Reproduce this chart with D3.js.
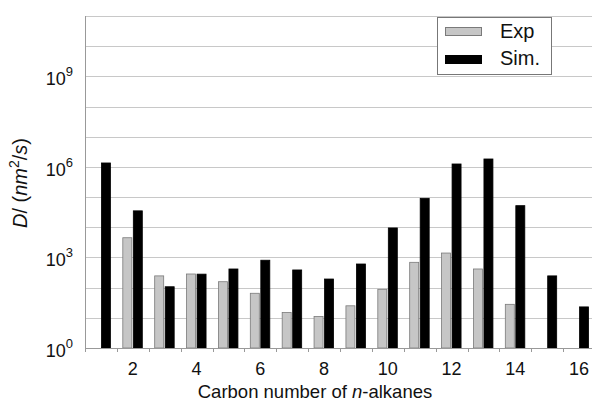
<!DOCTYPE html>
<html>
<head>
<meta charset="utf-8">
<script src="https://cdn.jsdelivr.net/npm/d3@7"></script>
<style>
  body { margin: 0; background: #fff; }
  text { font-family: "Liberation Sans", Arial, sans-serif; fill: #111; }
</style>
</head>
<body>
<div id="chart"></div>
<script>
// carbon number of n-alkanes
var carbons = [1, 2, 3, 4, 5, 6, 7, 8, 9, 10, 11, 12, 13, 14, 15, 16];
// diffusion coefficients, nm^2/s (null = no bar)
var expVals = [null, 4500, 245, 283, 157, 65, 15, 11, 25, 88, 690, 1400, 415, 28, null, null];
var simVals = [1.35e6, 35000, 107, 280, 415, 810, 385, 193, 607, 9500, 91000, 1.25e6, 1.83e6, 52000, 245, 23];
var xTickLabels = [2, 4, 6, 8, 10, 12, 14, 16];
var yTickExps = [0, 3, 6, 9];
var seriesNames = ["Exp", "Sim."];

var W = 592, H = 409;
var mLeft = 85, mTop = 16, mBottom = 348, mRight = 595;

var svg = d3.select("#chart").append("svg")
  .attr("width", W).attr("height", H);

var x = d3.scaleBand()
  .domain(carbons)
  .range([mLeft, mRight])
  .paddingInner(0).paddingOuter(0);

var y = d3.scaleLog()
  .domain([1, 1e11])
  .range([mBottom, mTop]);

// gridlines every decade
var decades = d3.range(1, 12).map(function(e) { return Math.pow(10, e); });
svg.append("g").selectAll("line")
  .data(decades)
  .enter().append("line")
  .attr("x1", mLeft).attr("x2", W)
  .attr("y1", function(d) { return Math.round(y(d)) + 0.5; })
  .attr("y2", function(d) { return Math.round(y(d)) + 0.5; })
  .style("stroke", "#c8c8c8")
  .style("stroke-width", 1);

// bars
var bw = 9;
function barGroup(vals, off, fill, stroke) {
  svg.append("g").selectAll("rect")
    .data(carbons.map(function(c, i) { return { c: c, v: vals[i] }; }).filter(function(d) { return d.v; }))
    .enter().append("rect")
    .attr("x", function(d) { return x(d.c) + x.bandwidth() / 2 + off; })
    .attr("y", function(d) { return y(d.v); })
    .attr("width", bw)
    .attr("height", function(d) { return mBottom - y(d.v); })
    .style("fill", fill)
    .style("stroke", stroke)
    .style("stroke-width", 0.8);
}
barGroup(expVals, -10, "#c6c6c6", "#7a7a7a");
barGroup(simVals, 0.5, "#000", "#000");

// axes lines
svg.append("line")
  .attr("x1", mLeft + 0.5).attr("x2", mLeft + 0.5)
  .attr("y1", mTop).attr("y2", mBottom)
  .style("stroke", "#999");
svg.append("line")
  .attr("x1", mLeft).attr("x2", W)
  .attr("y1", mBottom + 0.5).attr("y2", mBottom + 0.5)
  .style("stroke", "#999");

// x tick marks between categories
svg.append("g").selectAll("line")
  .data(carbons)
  .enter().append("line")
  .attr("x1", function(d) { return Math.round(x(d)) + 0.5; })
  .attr("x2", function(d) { return Math.round(x(d)) + 0.5; })
  .attr("y1", mBottom).attr("y2", mBottom + 4)
  .style("stroke", "#999");

// x tick labels
svg.append("g").selectAll("text")
  .data(xTickLabels)
  .enter().append("text")
  .attr("x", function(d) { return x(d) + x.bandwidth() / 2; })
  .attr("y", mBottom + 27)
  .attr("text-anchor", "middle")
  .style("font-size", "18px")
  .text(function(d) { return d; });

// y tick labels 10^n
var yl = svg.append("g").selectAll("text")
  .data(yTickExps)
  .enter().append("text")
  .attr("x", 73)
  .attr("y", function(d) { return y(Math.pow(10, d)) + 9; })
  .attr("text-anchor", "end")
  .style("font-size", "18px");
yl.append("tspan").text("10");
yl.append("tspan").attr("dy", -9).style("font-size", "13px").text(function(d) { return d; });

// y axis title
var yt = svg.append("text")
  .attr("transform", "translate(27,183) rotate(-90)")
  .attr("text-anchor", "middle")
  .style("font-size", "20px");
yt.append("tspan").style("font-style", "italic").text("D");
yt.append("tspan").text("/ (");
yt.append("tspan").style("font-style", "italic").text("nm");
yt.append("tspan").attr("dy", -8).style("font-size", "14px").text("2");
yt.append("tspan").attr("dy", 8).text("/");
yt.append("tspan").style("font-style", "italic").text("s");
yt.append("tspan").text(")");

// x axis title
var xt = svg.append("text")
  .attr("x", 315).attr("y", 398)
  .attr("text-anchor", "middle")
  .style("font-size", "18.5px");
xt.append("tspan").text("Carbon number of ");
xt.append("tspan").style("font-style", "italic").text("n");
xt.append("tspan").text("-alkanes");

// legend
var lg = svg.append("g");
lg.append("rect")
  .attr("x", 437.5).attr("y", 17.5).attr("width", 114).attr("height", 57)
  .style("fill", "#fff").style("stroke", "#777");
var legFills = ["#c6c6c6", "#000"];
var legStrokes = ["#7a7a7a", "#000"];
lg.selectAll(".key")
  .data(seriesNames)
  .enter().append("rect")
  .attr("class", "key")
  .attr("x", 445.5)
  .attr("y", function(d, i) { return 27.5 + i * 28; })
  .attr("width", 36).attr("height", 8)
  .style("fill", function(d, i) { return legFills[i]; })
  .style("stroke", function(d, i) { return legStrokes[i]; });
lg.selectAll(".lab")
  .data(seriesNames)
  .enter().append("text")
  .attr("class", "lab")
  .attr("x", 500)
  .attr("y", function(d, i) { return 38 + i * 27; })
  .style("font-size", "20px")
  .text(function(d) { return d; });
</script>
</body>
</html>
